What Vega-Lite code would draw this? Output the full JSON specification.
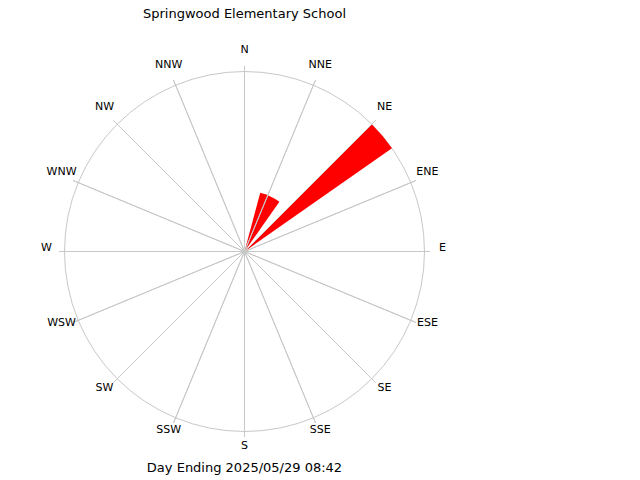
{
  "$schema": "https://vega.github.io/schema/vega-lite/v6.json",
  "autosize": {"type": "none"},
  "padding": {"left": 0, "top": 30, "right": 151, "bottom": 7},
  "width": 489,
  "height": 443,
  "background": "white",
  "title": {
    "text": "Springwood Elementary School",
    "font": "DejaVu Sans",
    "fontSize": 13,
    "fontWeight": "normal",
    "color": "black",
    "anchor": "middle",
    "frame": "group",
    "offset": 9
  },
  "config": {"view": {"stroke": null}},
  "datasets": {
    "petals": [
      {"dir": "NNE", "from": 15, "to": 35, "freq": 33.8},
      {"dir": "NE", "from": 45, "to": 55, "freq": 100}
    ],
    "ring": [{"name": "outer"}],
    "compass": [
      {"label": "N", "angle": 0},
      {"label": "NNE", "angle": 22.5},
      {"label": "NE", "angle": 45},
      {"label": "ENE", "angle": 67.5},
      {"label": "E", "angle": 90},
      {"label": "ESE", "angle": 112.5},
      {"label": "SE", "angle": 135},
      {"label": "SSE", "angle": 157.5},
      {"label": "S", "angle": 180},
      {"label": "SSW", "angle": 202.5},
      {"label": "SW", "angle": 225},
      {"label": "WSW", "angle": 247.5},
      {"label": "W", "angle": 270},
      {"label": "WNW", "angle": 292.5},
      {"label": "NW", "angle": 315},
      {"label": "NNW", "angle": 337.5}
    ],
    "caption": [{"text": "Day Ending 2025/05/29 08:42"}]
  },
  "layer": [
    {
      "data": {"name": "ring"},
      "mark": {"type": "arc", "fill": null, "stroke": "#c8c8c8", "strokeWidth": 1},
      "encoding": {
        "theta": {"datum": 0, "type": "quantitative", "scale": {"type": "linear", "domain": [0, 360], "range": [0, 6.283185307179586]}},
        "theta2": {"datum": 360},
        "radius": {"datum": 100, "type": "quantitative", "scale": {"type": "linear", "domain": [0, 100], "range": [0, 180], "zero": true}}
      }
    },
    {
      "data": {"name": "petals"},
      "mark": {"type": "arc", "fill": "#ff0000", "stroke": null},
      "encoding": {
        "theta": {"field": "from", "type": "quantitative", "stack": null, "scale": {"type": "linear", "domain": [0, 360], "range": [0, 6.283185307179586]}},
        "theta2": {"field": "to"},
        "radius": {"field": "freq", "type": "quantitative", "scale": {"type": "linear", "domain": [0, 100], "range": [0, 180], "zero": true}}
      }
    },
    {
      "data": {"name": "compass"},
      "mark": {"type": "arc", "fill": null, "stroke": "#c8c8c8", "strokeWidth": 1},
      "encoding": {
        "theta": {"field": "angle", "type": "quantitative", "stack": null, "scale": {"type": "linear", "domain": [0, 360], "range": [0, 6.283185307179586]}},
        "theta2": {"field": "angle"},
        "radius": {"datum": 103, "type": "quantitative", "scale": {"type": "linear", "domain": [0, 100], "range": [0, 180], "zero": true}}
      }
    },
    {
      "data": {"name": "compass"},
      "mark": {"type": "text", "font": "DejaVu Sans", "fontSize": 11, "color": "black", "align": "center", "baseline": "middle", "dy": -4},
      "encoding": {
        "theta": {"field": "angle", "type": "quantitative", "stack": null, "scale": {"type": "linear", "domain": [0, 360], "range": [0, 6.283185307179586]}},
        "radius": {"datum": 110, "type": "quantitative", "scale": {"type": "linear", "domain": [0, 100], "range": [0, 180], "zero": true}},
        "text": {"field": "label"}
      }
    },
    {
      "data": {"name": "caption"},
      "mark": {"type": "text", "font": "DejaVu Sans", "fontSize": 13, "color": "black", "align": "center", "baseline": "middle"},
      "encoding": {
        "theta": {"datum": 180, "type": "quantitative", "scale": {"type": "linear", "domain": [0, 360], "range": [0, 6.283185307179586]}},
        "radius": {"datum": 120, "type": "quantitative", "scale": {"type": "linear", "domain": [0, 100], "range": [0, 180], "zero": true}},
        "text": {"field": "text"}
      }
    }
  ]
}
